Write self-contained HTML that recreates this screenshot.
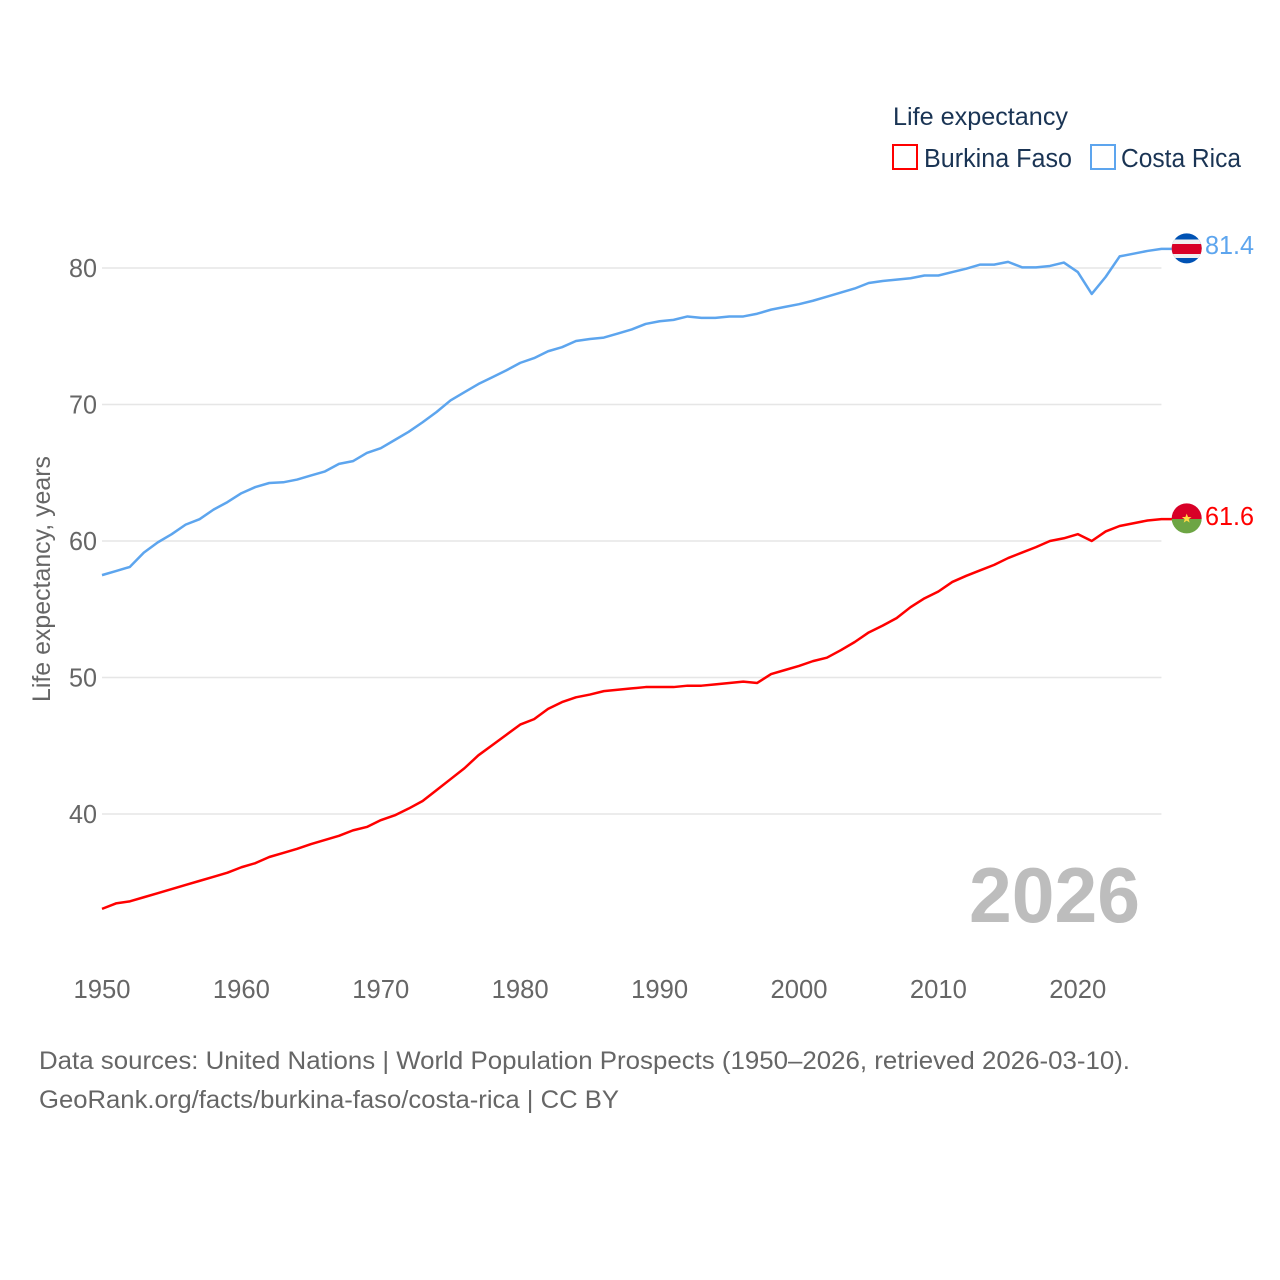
<!DOCTYPE html>
<html lang="en">
<head>
<meta charset="utf-8">
<title>Life expectancy: Burkina Faso and Costa Rica</title>
<style>
html,body{margin:0;padding:0;background:#fff;}
svg{display:block;}
text{font-family:"Liberation Sans",Arial,sans-serif;}
</style>
</head>
<body>
<svg id="chart" xmlns="http://www.w3.org/2000/svg" width="1280" height="1280" viewBox="0 0 1280 1280">
  <rect x="0" y="0" width="1280" height="1280" fill="#fff"/>
  <g id="grid"></g>
  <g id="yticks"></g>
  <g id="xticks"></g>
  <text transform="translate(50,702) rotate(-90)" font-size="25" fill="#666" textLength="246" lengthAdjust="spacingAndGlyphs">Life expectancy, years</text>
  <text x="969" y="922" font-size="78" font-weight="700" fill="#bdbdbd" textLength="171" lengthAdjust="spacingAndGlyphs">2026</text>
  <g id="series"></g>

  <defs>
    <clipPath id="cr-clip"><circle cx="1186.7" cy="248.4" r="15"/></clipPath>
    <clipPath id="bf-clip"><circle cx="1186.7" cy="518.4" r="15"/></clipPath>
  </defs>
  <g clip-path="url(#cr-clip)">
    <rect x="1171" y="233" width="32" height="31" fill="#0052b4"/>
    <rect x="1171" y="239.5" width="32" height="18.5" fill="#f0f0f0"/>
    <rect x="1171" y="244" width="32" height="10" fill="#d80027"/>
  </g>
  <g clip-path="url(#bf-clip)">
    <rect x="1171" y="503" width="32" height="16" fill="#d80027"/>
    <rect x="1171" y="519" width="32" height="15" fill="#6da544"/>
    <polygon points="1186.7,513.6 1188,517 1191.5,517 1188.7,519.2 1189.7,522.6 1186.7,520.6 1183.7,522.6 1184.7,519.2 1181.9,517 1185.4,517" fill="#ffda44"/>
  </g>
  <text x="1205" y="254" font-size="25.5" fill="#5da5ee" textLength="49" lengthAdjust="spacingAndGlyphs">81.4</text>
  <text x="1205" y="525" font-size="25.5" fill="#ff0000" textLength="49" lengthAdjust="spacingAndGlyphs">61.6</text>

  <g>
    <text x="893" y="125" font-size="25" fill="#1a3454" textLength="175" lengthAdjust="spacingAndGlyphs">Life expectancy</text>
    <g>
      <rect x="893" y="145" width="24" height="24" fill="#fff" stroke="#ff0000" stroke-width="2"/>
      <text x="924" y="167" font-size="25.5" fill="#1a3454" textLength="148" lengthAdjust="spacingAndGlyphs">Burkina Faso</text>
    </g>
    <g>
      <rect x="1091" y="145" width="24" height="24" fill="#fff" stroke="#5da5ee" stroke-width="2"/>
      <text x="1121" y="167" font-size="25.5" fill="#1a3454" textLength="120" lengthAdjust="spacingAndGlyphs">Costa Rica</text>
    </g>
  </g>

  <g>
    <text x="39" y="1069" font-size="25" fill="#666" textLength="1091" lengthAdjust="spacingAndGlyphs">Data sources: United Nations | World Population Prospects (1950–2026, retrieved 2026-03-10).</text>
    <text x="39" y="1108" font-size="25" fill="#666" textLength="580" lengthAdjust="spacingAndGlyphs">GeoRank.org/facts/burkina-faso/costa-rica | CC BY</text>
  </g>
</svg>
<script>
const startYear = 1950;
const yTicks = [40, 50, 60, 70, 80];
const xTicks = [1950, 1960, 1970, 1980, 1990, 2000, 2010, 2020];
const costaRica = [
  57.5, 57.8, 58.1, 59.15, 59.9, 60.5, 61.2, 61.6, 62.3, 62.85,
  63.5, 63.95, 64.25, 64.3, 64.5, 64.8, 65.1, 65.65, 65.85, 66.45,
  66.8, 67.4, 68, 68.7, 69.45, 70.3, 70.9, 71.5, 72, 72.5,
  73.05, 73.4, 73.9, 74.2, 74.65, 74.8, 74.9, 75.2, 75.5, 75.9,
  76.1, 76.2, 76.45, 76.35, 76.35, 76.45, 76.45, 76.65, 76.95, 77.15,
  77.35, 77.6, 77.9, 78.2, 78.5, 78.9, 79.05, 79.15, 79.25, 79.45,
  79.45, 79.7, 79.95, 80.25, 80.25, 80.45, 80.05, 80.05, 80.15, 80.4,
  79.7, 78.1, 79.35, 80.85, 81.05, 81.25, 81.4
];
const burkinaFaso = [
  33.05, 33.45, 33.6, 33.9, 34.2, 34.5, 34.8, 35.1, 35.4, 35.7,
  36.1, 36.4, 36.85, 37.15, 37.45, 37.8, 38.1, 38.4, 38.8, 39.05,
  39.55, 39.9, 40.4, 40.95, 41.75, 42.55, 43.35, 44.3, 45.05, 45.8,
  46.55, 46.95, 47.7, 48.2, 48.55, 48.75, 49.0, 49.1, 49.2, 49.3,
  49.3, 49.3, 49.4, 49.4, 49.5, 49.6, 49.7, 49.6, 50.25, 50.55,
  50.85, 51.2, 51.45, 52, 52.6, 53.3, 53.8, 54.35, 55.15, 55.8,
  56.3, 57, 57.45, 57.85, 58.25, 58.75, 59.15, 59.55, 60, 60.2,
  60.5, 60, 60.7, 61.1, 61.3, 61.5, 61.6
];

const SVG_NS = 'http://www.w3.org/2000/svg';
const xScale = function (year) { return 102 + (year - 1950) * 13.94; };
const yScale = function (value) { return 814 - (value - 40) * 13.65; };

const gridGroup = document.getElementById('grid');
const yTickGroup = document.getElementById('yticks');
const xTickGroup = document.getElementById('xticks');
const seriesGroup = document.getElementById('series');

yTicks.forEach(function (tick) {
  const line = document.createElementNS(SVG_NS, 'line');
  
  
  line.setAttribute('x1', xScale(startYear));
  line.setAttribute('x2', xScale(2026));
  line.setAttribute('y1', yScale(tick));
  line.setAttribute('y2', yScale(tick));
  line.setAttribute('stroke', '#e6e6e6');
  line.setAttribute('stroke-width', '1.4');
  gridGroup.appendChild(line);

  const label = document.createElementNS(SVG_NS, 'text');
  
  
  label.setAttribute('x', 69);
  label.setAttribute('y', yScale(tick) + 9);
  label.setAttribute('font-size', '25.5');
  label.setAttribute('fill', '#666');
  label.setAttribute('textLength', '28');
  label.setAttribute('lengthAdjust', 'spacingAndGlyphs');
  label.textContent = String(tick);
  yTickGroup.appendChild(label);
});

xTicks.forEach(function (tick) {
  const label = document.createElementNS(SVG_NS, 'text');
  
  
  label.setAttribute('x', xScale(tick) - 28.5);
  label.setAttribute('y', 998);
  label.setAttribute('font-size', '25.5');
  label.setAttribute('fill', '#666');
  label.setAttribute('textLength', '57');
  label.setAttribute('lengthAdjust', 'spacingAndGlyphs');
  label.textContent = String(tick);
  xTickGroup.appendChild(label);
});

function linePath(values) {
  let d = '';
  values.forEach(function (value, i) {
    d += (i === 0 ? 'M' : 'L') + xScale(startYear + i).toFixed(2) + ' ' + yScale(value).toFixed(2);
  });
  const last = values[values.length - 1];
  d += 'L1172 ' + yScale(last).toFixed(2);
  return d;
}

const burkinaLine = document.createElementNS(SVG_NS, 'path');


burkinaLine.setAttribute('d', linePath(burkinaFaso));
burkinaLine.setAttribute('fill', 'none');
burkinaLine.setAttribute('stroke', '#ff0000');
burkinaLine.setAttribute('stroke-width', '2.5');
burkinaLine.setAttribute('stroke-linejoin', 'round');
seriesGroup.appendChild(burkinaLine);

const costaRicaLine = document.createElementNS(SVG_NS, 'path');


costaRicaLine.setAttribute('d', linePath(costaRica));
costaRicaLine.setAttribute('fill', 'none');
costaRicaLine.setAttribute('stroke', '#5da5ee');
costaRicaLine.setAttribute('stroke-width', '2.5');
costaRicaLine.setAttribute('stroke-linejoin', 'round');
seriesGroup.appendChild(costaRicaLine);
</script>
</body>
</html>
